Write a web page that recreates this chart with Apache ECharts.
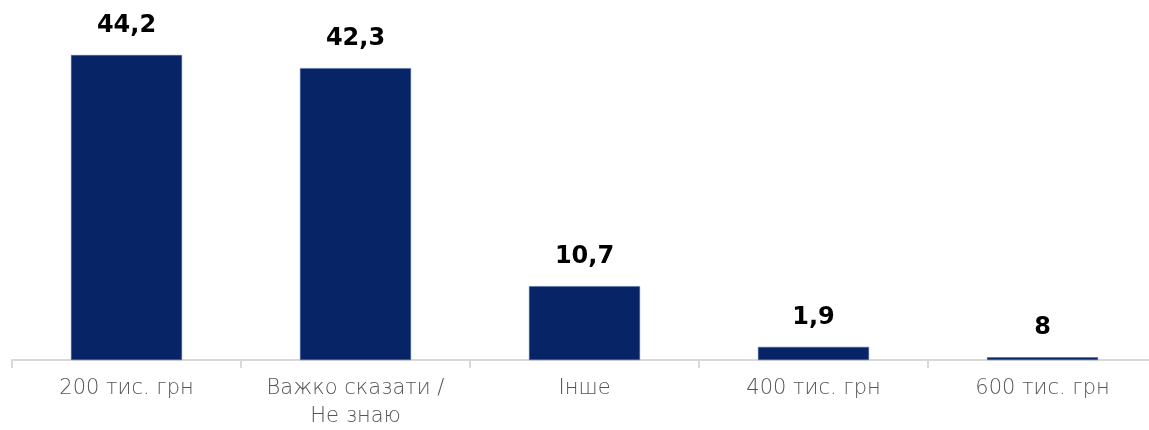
<!DOCTYPE html>
<html><head><meta charset="utf-8">
<script src="https://cdn.jsdelivr.net/npm/echarts@6/dist/echarts.min.js"></script>
<style>html,body{margin:0;padding:0;background:#fff}#c{width:1149px;height:430px}</style>
</head><body><div id="c"></div>
<script>
const categories = ['200 тис. грн', 'Важко сказати /\nНе знаю', 'Інше', '400 тис. грн', '600 тис. грн'];
const values = [44.2, 42.3, 10.7, 1.9, 0.4];
const valueLabels = ['44,2', '42,3', '10,7', '1,9', '8'];

const chart = echarts.init(document.getElementById('c'));
chart.setOption({
  animation: false,
  grid: {left: 12, width: 1145, top: 15, bottom: 70, outerBoundsMode: 'none', containLabel: false},
  xAxis: {
    type: 'category', data: categories,
    axisLine: {lineStyle: {color: '#d9d9d9', width: 2}},
    axisTick: {show: true, interval: 0, length: 8, lineStyle: {color: '#d9d9d9', width: 2}},
    axisLabel: {interval: 0, hideOverlap: false, color: '#555555', fontFamily: 'DejaVu Sans', fontWeight: 300, fontSize: 21, margin: 15, lineHeight: 28}
  },
  yAxis: {type: 'value', min: 0, max: 50, show: false, splitLine: {show: false}},
  series: [{
    type: 'bar', data: values, barWidth: 111,
    itemStyle: {color: '#062466', borderColor: '#4a6aa8', borderWidth: 0.5},
    label: {
      show: true, position: 'top', distance: 17,
      formatter: p => valueLabels[p.dataIndex],
      color: '#000', fontFamily: 'DejaVu Sans', fontWeight: 'bold', fontSize: 24
    }
  }]
});
</script></body></html>
